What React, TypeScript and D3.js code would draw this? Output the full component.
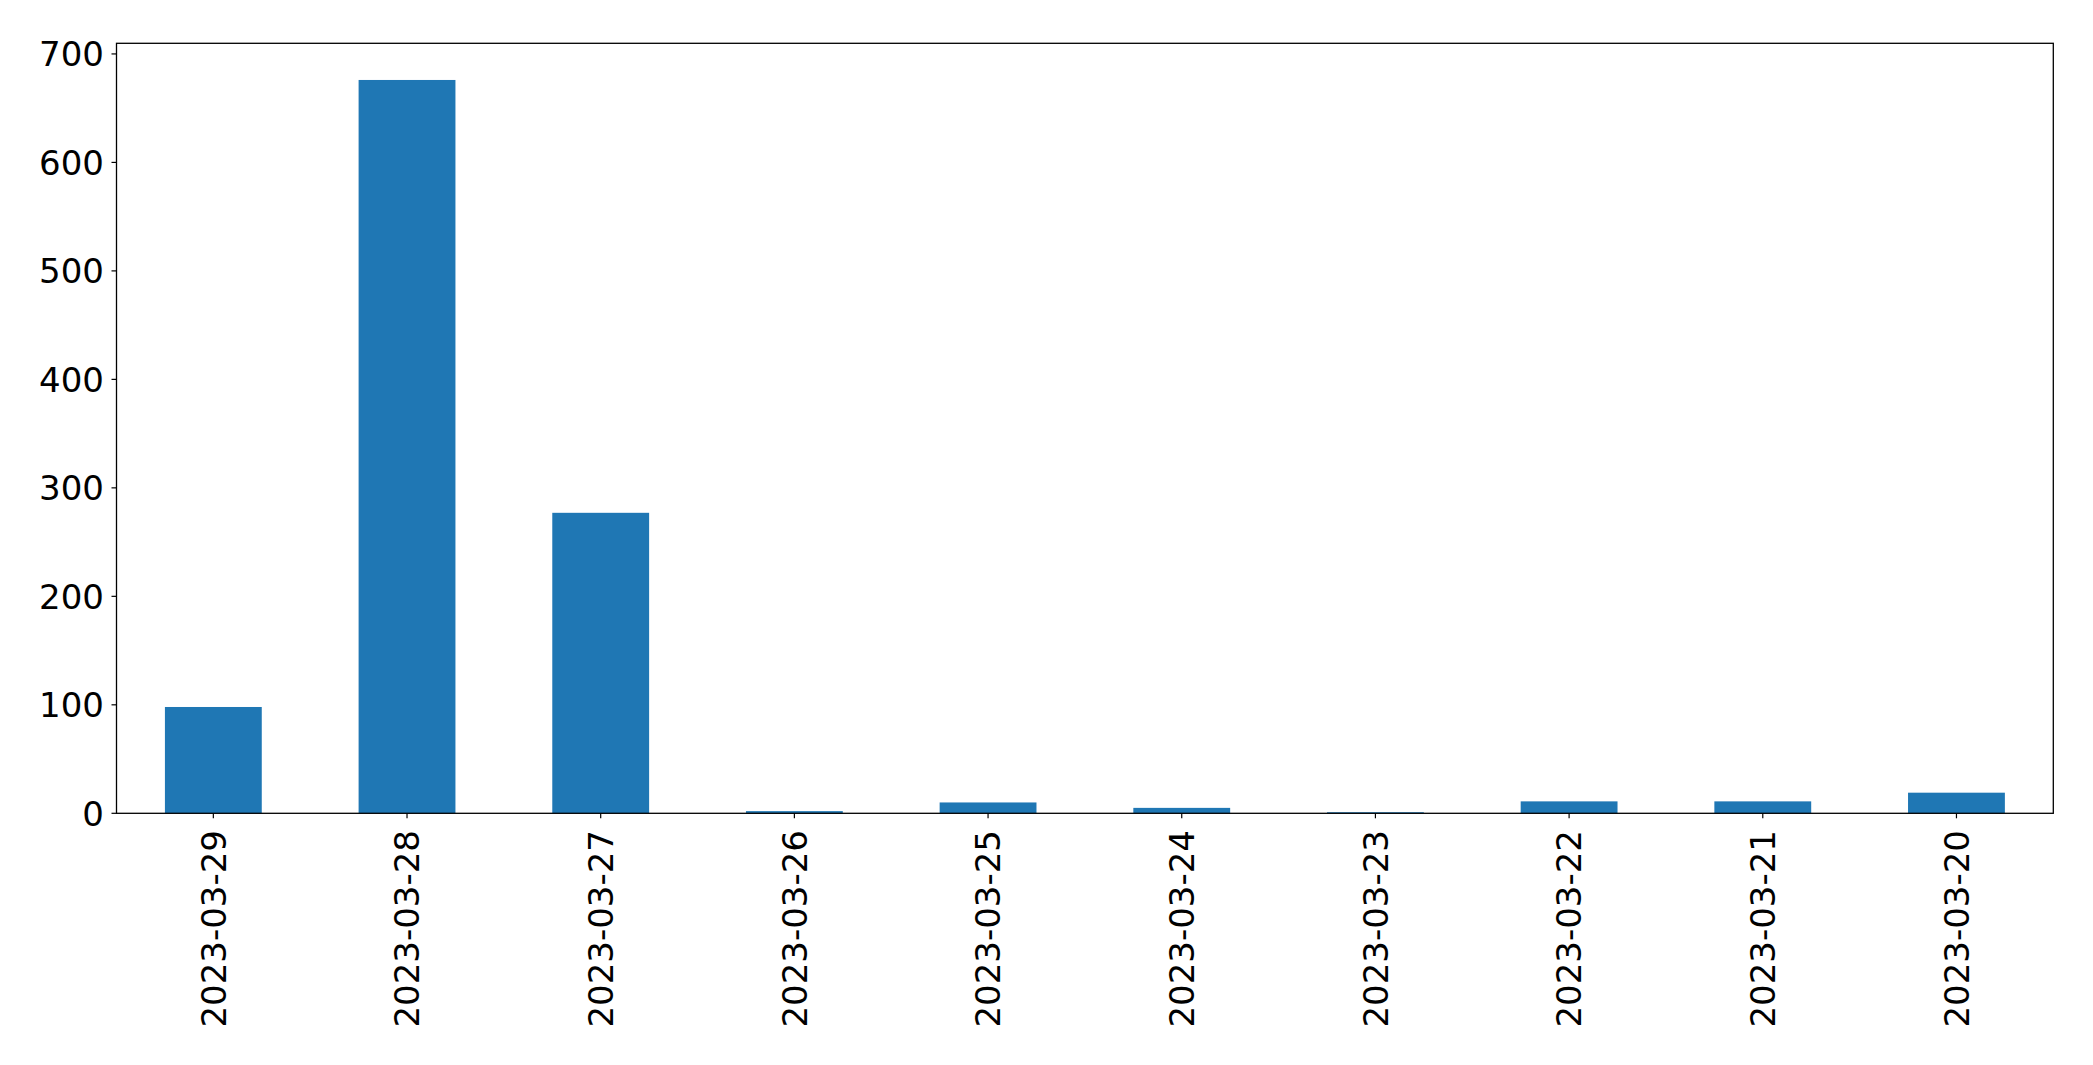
import React from "react";
import * as d3 from "d3";

const categories = [
  "2023-03-29",
  "2023-03-28",
  "2023-03-27",
  "2023-03-26",
  "2023-03-25",
  "2023-03-24",
  "2023-03-23",
  "2023-03-22",
  "2023-03-21",
  "2023-03-20",
];
const values = [98, 676, 277, 2, 10, 5, 1, 11, 11, 19];
const yTicks = [0, 100, 200, 300, 400, 500, 600, 700];

const W = 2093;
const H = 1065;
const M = { left: 116.5, right: 2053.3, top: 43.3, bottom: 813.3 };
const FONT = "'DejaVu Sans', sans-serif";
const FS = 34;
const COLOR = "#1f77b4";

export default function App() {
  const ymax = (d3.max(values) as number) * 1.05;
  const x = d3
    .scaleLinear()
    .domain([-0.5, categories.length - 0.5])
    .range([M.left, M.right]);
  const y = d3.scaleLinear().domain([0, ymax]).range([M.bottom, M.top]);
  const bw = x(0.25) - x(-0.25);

  return (
    <svg
      width={W}
      height={H}
      style={{ position: "absolute", left: 0, top: 0, background: "#fff" }}
      fontFamily={FONT}
    >
      <rect x={0} y={0} width={W} height={H} fill="#fff" />
      {values.map((v, i) => (
        <rect
          key={i}
          x={x(i) - bw / 2}
          y={y(v)}
          width={bw}
          height={y(0) - y(v)}
          fill={COLOR}
        />
      ))}
      {yTicks.map((t) => (
        <g key={t}>
          <line
            x1={M.left - 5}
            x2={M.left}
            y1={y(t)}
            y2={y(t)}
            stroke="#000"
            strokeWidth={1.2}
          />
          <text
            x={104}
            y={y(t)}
            dy="0.36em"
            textAnchor="end"
            fontSize={FS}
            fill="#000"
          >
            {t}
          </text>
        </g>
      ))}
      {categories.map((c, i) => (
        <g key={c}>
          <line
            x1={x(i)}
            x2={x(i)}
            y1={M.bottom}
            y2={M.bottom + 5}
            stroke="#000"
            strokeWidth={1.2}
          />
          <text
            transform={`translate(${x(i)},${830}) rotate(-90)`}
            dy="0.36em"
            textAnchor="end"
            fontSize={FS}
            fill="#000"
          >
            {c}
          </text>
        </g>
      ))}
      <rect
        x={M.left}
        y={M.top}
        width={M.right - M.left}
        height={M.bottom - M.top}
        fill="none"
        stroke="#000"
        strokeWidth={1.3}
      />
    </svg>
  );
}
